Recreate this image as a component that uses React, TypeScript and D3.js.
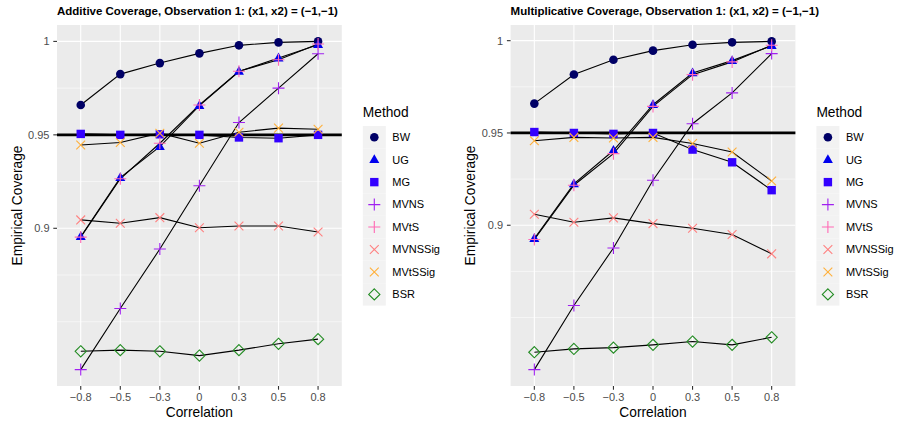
import React from "react";
import * as d3 from "d3";

const correlations = ["−0.8", "−0.5", "−0.3", "0", "0.3", "0.5", "0.8"];
const methods = ["BW", "UG", "MG", "MVNS", "MVtS", "MVNSSig", "MVtSSig", "BSR"];
const methodColors = ["#000066", "#0000EE", "#3300FF", "#A020F0", "#FF69B4", "#FF8080", "#FFB03B", "#228B22"];
const methodShapes = ["circle", "triangle", "square", "plus", "plus", "cross", "cross", "diamond"];
const yBreaks = [0.9, 0.95, 1];
const yBreakLabels = ["0.9", "0.95", "1"];
const yMinorBreaks = [0.85, 0.875, 0.925, 0.975];
const targetCoverage = 0.95;

// Additive coverage
const addBW = [0.966, 0.9825, 0.9884, 0.9936, 0.9979, 0.9995, 1.0];
const addUG = [0.8955, 0.9271, 0.9437, 0.9656, 0.9839, 0.9911, 0.9982];
const addMG = [0.9505, 0.95, 0.9503, 0.95, 0.9486, 0.9482, 0.95];
const addMVNS = [0.8244, 0.8571, 0.8889, 0.9228, 0.9566, 0.975, 0.9934];
const addMVtS = [0.8953, 0.9265, 0.9455, 0.966, 0.984, 0.9902, 0.9986];
const addMVNSSig = [0.9045, 0.9027, 0.9057, 0.9003, 0.9012, 0.9012, 0.898];
const addMVtSSig = [0.9446, 0.9459, 0.9509, 0.9455, 0.9514, 0.9536, 0.953];
const addBSR = [0.8342, 0.8348, 0.8342, 0.8319, 0.8348, 0.8382, 0.8407];

// Multiplicative coverage
const mulBW = [0.9659, 0.9817, 0.9897, 0.9946, 0.9978, 0.9991, 0.9996];
const mulUG = [0.8928, 0.9224, 0.9405, 0.9653, 0.9825, 0.9892, 0.9973];
const mulMG = [0.9505, 0.95, 0.9495, 0.95, 0.941, 0.9341, 0.919];
const mulMVNS = [0.8218, 0.8565, 0.8877, 0.9244, 0.955, 0.9717, 0.993];
const mulMVtS = [0.8923, 0.9217, 0.9388, 0.9644, 0.9816, 0.9885, 0.9975];
const mulMVNSSig = [0.906, 0.9016, 0.904, 0.9009, 0.8984, 0.895, 0.8845];
const mulMVtSSig = [0.9458, 0.9476, 0.9473, 0.9476, 0.9443, 0.9397, 0.924];
const mulBSR = [0.8312, 0.833, 0.8337, 0.8352, 0.837, 0.8352, 0.8393];

const addSeries = [addBW, addUG, addMG, addMVNS, addMVtS, addMVNSSig, addMVtSSig, addBSR];
const mulSeries = [mulBW, mulUG, mulMG, mulMVNS, mulMVtS, mulMVNSSig, mulMVtSSig, mulBSR];

const FONT = "'Liberation Sans', Arial, Helvetica, sans-serif";

function Marker({ shape, color, x, y }: { shape: string; color: string; x: number; y: number }) {
  switch (shape) {
    case "circle":
      return <circle cx={x} cy={y} r={4.3} fill={color} />;
    case "triangle": {
      const h = 8.8, w = 10;
      return (
        <path
          d={`M${x},${y - h * 0.62}L${x + w / 2},${y + h * 0.38}L${x - w / 2},${y + h * 0.38}Z`}
          fill={color}
        />
      );
    }
    case "square":
      return <rect x={x - 4.2} y={y - 4.2} width={8.4} height={8.4} fill={color} />;
    case "plus": {
      const a = 6;
      return (
        <path d={`M${x - a},${y}H${x + a}M${x},${y - a}V${y + a}`} stroke={color} strokeWidth={1.1} fill="none" />
      );
    }
    case "cross": {
      const a = 4.4;
      return (
        <path
          d={`M${x - a},${y - a}L${x + a},${y + a}M${x - a},${y + a}L${x + a},${y - a}`}
          stroke={color}
          strokeWidth={1.1}
          fill="none"
        />
      );
    }
    case "diamond": {
      const a = 5.6;
      return (
        <path
          d={`M${x},${y - a}L${x + a},${y}L${x},${y + a}L${x - a},${y}Z`}
          stroke={color}
          strokeWidth={1.1}
          fill="none"
        />
      );
    }
  }
  return null;
}

function Panel({
  left,
  title,
  series,
}: {
  left: number;
  title: string;
  series: number[][];
}) {
  const top = 25;
  const bottom = 386;
  const width = 284.8;
  const right = left + width;
  const all = series.flat();
  const lo = d3.min(all) as number;
  const hi = d3.max(all) as number;
  const pad = (hi - lo) * 0.05;
  const x = d3.scalePoint<string>().domain(correlations).range([left, right]).padding(0.6);
  const y = d3.scaleLinear().domain([lo - pad, hi + pad]).range([bottom, top]);
  const line = d3
    .line<number>()
    .x((_, i) => x(correlations[i]) as number)
    .y((d) => y(d));

  const legendKeyX = right + 21;
  const legendKeyW = 23;
  const legendKeyH = 22.45;
  const legendTop = 126;

  return (
    <g>
      <text x={left} y={14.5} fontFamily={FONT} fontWeight="bold" fontSize={11.5} fill="#000">
        {title}
      </text>
      <rect x={left} y={top} width={width} height={bottom - top} fill="#EBEBEB" />
      {yMinorBreaks.map((b) => (
        <line key={"mn" + b} x1={left} x2={right} y1={y(b)} y2={y(b)} stroke="#fff" strokeWidth={0.55} />
      ))}
      {yBreaks.map((b) => (
        <line key={"mj" + b} x1={left} x2={right} y1={y(b)} y2={y(b)} stroke="#fff" strokeWidth={1.1} />
      ))}
      {correlations.map((c) => (
        <line key={"xg" + c} x1={x(c)} x2={x(c)} y1={top} y2={bottom} stroke="#fff" strokeWidth={1.1} />
      ))}
      {series.map((s, i) => (
        <path key={"ln" + i} d={line(s) as string} fill="none" stroke="#000" strokeWidth={1.1} />
      ))}
      <line
        x1={left}
        x2={right}
        y1={y(targetCoverage)}
        y2={y(targetCoverage)}
        stroke="#000"
        strokeWidth={2.8}
      />
      {series.map((s, i) =>
        s.map((v, j) => (
          <Marker
            key={"pt" + i + "-" + j}
            shape={methodShapes[i]}
            color={methodColors[i]}
            x={x(correlations[j]) as number}
            y={y(v)}
          />
        ))
      )}
      {/* y axis */}
      {yBreaks.map((b, i) => (
        <g key={"yt" + b}>
          <line x1={left - 3.7} x2={left} y1={y(b)} y2={y(b)} stroke="#333" strokeWidth={1.1} />
          <text
            x={left - 7.5}
            y={y(b) + 3.9}
            textAnchor="end"
            fontFamily={FONT}
            fontSize={11}
            fill="#4D4D4D"
          >
            {yBreakLabels[i]}
          </text>
        </g>
      ))}
      {/* x axis */}
      {correlations.map((c) => (
        <g key={"xt" + c}>
          <line x1={x(c)} x2={x(c)} y1={bottom} y2={bottom + 3.7} stroke="#333" strokeWidth={1.1} />
          <text x={x(c)} y={400.7} textAnchor="middle" fontFamily={FONT} fontSize={11} fill="#4D4D4D">
            {c}
          </text>
        </g>
      ))}
      <text
        x={(left + right) / 2}
        y={416.5}
        textAnchor="middle"
        fontFamily={FONT}
        fontSize={13.75}
        fill="#000"
      >
        Correlation
      </text>
      <text
        transform={`translate(${left - 35.5},${(top + bottom) / 2}) rotate(-90)`}
        textAnchor="middle"
        fontFamily={FONT}
        fontSize={13.75}
        fill="#000"
      >
        Empirical Coverage
      </text>
      {/* legend */}
      <text x={legendKeyX} y={117} fontFamily={FONT} fontSize={13.75} fill="#000">
        Method
      </text>
      {methods.map((m, i) => {
        const ky = legendTop + i * legendKeyH;
        return (
          <g key={"lg" + m}>
            <rect x={legendKeyX} y={ky} width={legendKeyW} height={legendKeyH} fill="#F2F2F2" />
            <Marker
              shape={methodShapes[i]}
              color={methodColors[i]}
              x={legendKeyX + legendKeyW / 2}
              y={ky + legendKeyH / 2}
            />
            <text
              x={legendKeyX + legendKeyW + 6.5}
              y={ky + legendKeyH / 2 + 3.9}
              fontFamily={FONT}
              fontSize={11}
              fill="#000"
            >
              {m}
            </text>
          </g>
        );
      })}
    </g>
  );
}

export default function App() {
  return (
    <svg
      width={900}
      height={427}
      viewBox="0 0 900 427"
      style={{ position: "absolute", left: 0, top: 0, background: "#fff" }}
    >
      <rect x={0} y={0} width={900} height={427} fill="#fff" />
      <Panel left={57} title="Additive Coverage, Observation 1: (x1, x2) = (−1,−1)" series={addSeries} />
      <Panel left={510.6} title="Multiplicative Coverage, Observation 1: (x1, x2) = (−1,−1)" series={mulSeries} />
    </svg>
  );
}
